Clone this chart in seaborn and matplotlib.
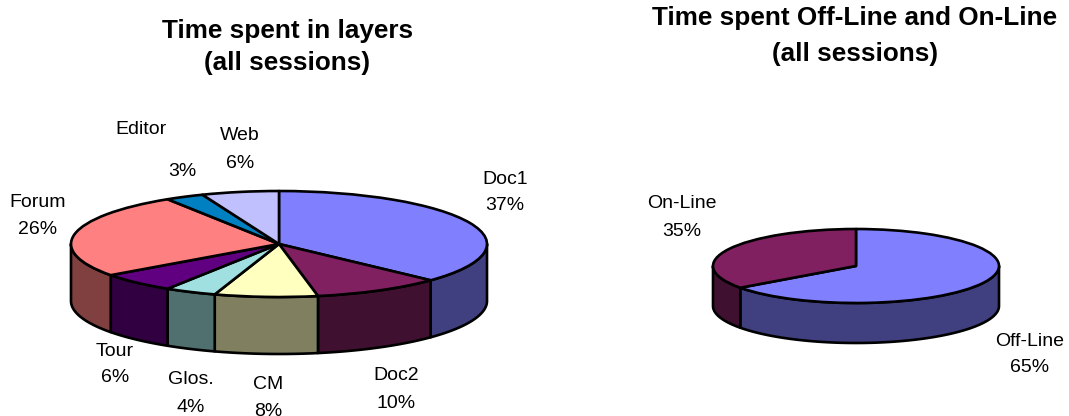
import numpy as np
import matplotlib
matplotlib.use("Agg")
import matplotlib.pyplot as plt
from matplotlib.colors import to_rgb
import seaborn as sns

sns.set_theme(style="white")
plt.rcParams["font.family"] = ["Liberation Sans", "DejaVu Sans"]

WIDTH, HEIGHT = 1069, 416

layers = ["Doc1", "Doc2", "CM", "Glos.", "Tour", "Forum", "Editor", "Web"]
layer_time = [37, 10, 8, 4, 6, 26, 3, 6]
layer_colors = ["#8080FF", "#802060", "#FFFFC0", "#A0E0E0",
                "#600080", "#FF8080", "#0080C0", "#C0C0FF"]

modes = ["Off-Line", "On-Line"]
mode_time = [65, 35]
mode_colors = ["#8080FF", "#802060"]

LINE = 1.9


def px_x(x):
    return x / WIDTH


def px_y(y):
    return 1 - y / HEIGHT


def draw_disc(values, colors, cx, cy, rx, ry, depth):
    """Tilted pie: a squashed ax.pie on top of a darker extruded rim."""
    x0, x1 = -1.3, 1.3
    y0, y1 = -1.3 - depth / ry, 1.3
    ax = fig.add_axes([px_x(cx + x0 * rx), px_y(cy - y0 * ry),
                       (x1 - x0) * rx / WIDTH, (y1 - y0) * ry / HEIGHT])
    ax.patch.set_alpha(0)

    shares = np.asarray(values, float) / np.sum(values)
    edges = 90 - 360 * np.concatenate([[0], np.cumsum(shares)])
    drop = depth / ry

    # Rim segments on the near half of the disc (180-360 degrees, math angle)
    for start, stop, color in zip(edges[:-1], edges[1:], colors):
        for shift in (0, -360):
            lo = max(stop + shift, -180)
            hi = min(start + shift, 0)
            if hi <= lo:
                continue
            t = np.radians(np.linspace(lo, hi, 80))
            xs = np.r_[np.cos(t), np.cos(t[::-1])]
            ys = np.r_[np.sin(t), np.sin(t[::-1]) - drop]
            shade = tuple(c * 0.5 for c in to_rgb(color))
            ax.fill(xs, ys, facecolor=shade, edgecolor="black",
                    linewidth=LINE, joinstyle="round", clip_on=False)

    ax.pie(values, colors=colors, startangle=90, counterclock=False,
           wedgeprops=dict(edgecolor="black", linewidth=LINE, joinstyle="round"))
    ax.set_aspect("auto")
    ax.set_xlim(x0, x1)
    ax.set_ylim(y0, y1)
    ax.set_axis_off()


def label(x, y, text, **kw):
    fig.text(px_x(x), px_y(y), text, ha="center", va="center",
             color="black", **kw)


fig = plt.figure(figsize=(WIDTH / 100, HEIGHT / 100), dpi=100)
fig.patch.set_facecolor("white")

draw_disc(layer_time, layer_colors, 279, 244, 208, 53, 57)
draw_disc(mode_time, mode_colors, 856, 266, 143, 37, 40)

TITLE = dict(fontsize=18.8, fontweight="bold")
label(287.5, 31, "Time spent in layers", **TITLE)
label(287.5, 63, "(all sessions)", **TITLE)
label(855, 18, "Time spent Off-Line and On-Line", **TITLE)
label(855, 54, "(all sessions)", **TITLE)

# Name above percentage, centred on the given pixel position
spots = {"Doc1": (505, 179), "Doc2": (396, 376), "CM": (268, 384.5),
         "Glos.": (191, 380), "Tour": (115, 351), "Forum": (38, 203),
         "Web": (240, 136), "On-Line": (682, 204), "Off-Line": (1030, 341)}
for names, vals in ((layers, layer_time), (modes, mode_time)):
    for name, val in zip(names, vals):
        if name == "Editor":
            label(141, 130, name, fontsize=14)
            label(182, 172, f"{val}%", fontsize=14)
        else:
            x, y = spots[name]
            label(x, y, name, fontsize=14)
            label(x, y + 27, f"{val}%", fontsize=14)

fig.savefig("out.png", dpi=100)
